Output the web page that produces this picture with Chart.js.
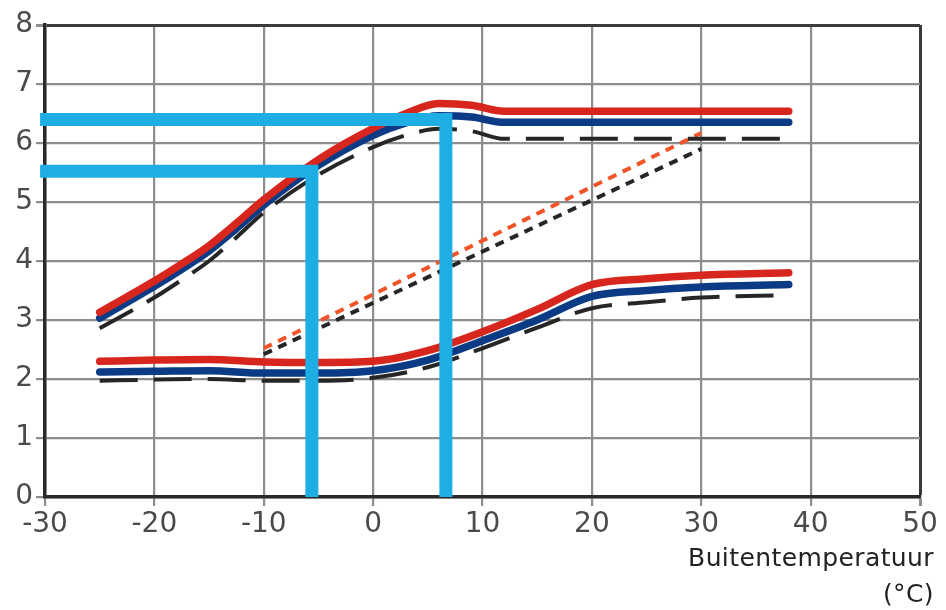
<!DOCTYPE html>
<html>
<head>
<meta charset="utf-8">
<script src="https://cdn.jsdelivr.net/npm/chart.js@4.4.1/dist/chart.umd.min.js"></script>
<style>
  html,body{margin:0;padding:0;background:#fff;}
  #wrap{width:946px;height:610px;position:relative;}
</style>
</head>
<body>
<div id="wrap"><canvas id="c" width="946" height="610"></canvas></div>
<script>
// ---- data ----
const xTickLabels = ['-30','-20','-10','0','10','20','30','40','50'];
const yTickLabels = ['0','1','2','3','4','5','6','7','8'];
const xAxisTitle = ['Buitentemperatuur', '(°C)'];

const xUpper = [-25, -20, -17.5, -15, -12.5, -10, -5, 0, 3, 6, 9, 12, 20, 30, 38];
const upperRed   = [3.13, 3.66, 3.95, 4.26, 4.64, 5.04, 5.72, 6.25, 6.50, 6.67, 6.64, 6.54, 6.54, 6.54, 6.54];
const upperBlue  = [3.03, 3.57, 3.86, 4.17, 4.55, 4.95, 5.62, 6.13, 6.34, 6.46, 6.44, 6.35, 6.35, 6.35, 6.35];
const upperBlack = [2.86, 3.38, 3.68, 4.00, 4.40, 4.82, 5.46, 5.93, 6.13, 6.24, 6.20, 6.07, 6.07, 6.07, 6.07];

const xLower = [-25, -20, -15, -10, -5, 0, 5, 10, 15, 20, 25, 30, 38];
const lowerRed   = [2.30, 2.32, 2.33, 2.29, 2.28, 2.30, 2.48, 2.80, 3.18, 3.60, 3.70, 3.76, 3.80];
const lowerBlue  = [2.12, 2.13, 2.14, 2.10, 2.10, 2.14, 2.32, 2.65, 3.00, 3.40, 3.50, 3.56, 3.60];
const lowerBlack = [1.97, 1.99, 2.00, 1.97, 1.97, 2.02, 2.20, 2.52, 2.87, 3.20, 3.30, 3.38, 3.42];

const xDotted = [-10, 30];
const dottedRed   = [2.52, 6.17];
const dottedBlack = [2.42, 5.90];

const xMark1 = [-30.45, 6.65, 6.65];
const yMark1 = [6.40, 6.40, 0];
const xMark2 = [-30.45, -5.6, -5.6];
const yMark2 = [5.52, 5.52, 0];

// ---- helpers ----
const pts = (xs, ys) => xs.map((x, i) => ({x: x, y: ys[i]}));

const RED = '#d7261d', BLUE = '#0c3b86', BLACK = '#262626';
const ORANGE = '#f05428', HIGHLIGHT = '#1eaee4';

function solid(data, color, order) {
  return {data, borderColor: color, borderWidth: 7.5, cubicInterpolationMode: 'monotone',
          borderCapStyle: 'round', borderJoinStyle: 'round', pointRadius: 0, order, fill: false};
}
function dashed(data, order) {
  return {data, borderColor: BLACK, borderWidth: 4, borderDash: [38, 16], cubicInterpolationMode: 'monotone',
          borderCapStyle: 'butt', pointRadius: 0, order, fill: false};
}
function dotted(data, color, order) {
  return {data, borderColor: color, borderWidth: 4, borderDash: [9, 7], tension: 0,
          borderCapStyle: 'butt', pointRadius: 0, order, fill: false};
}
function marker(data) {
  return {data, borderColor: HIGHLIGHT, borderWidth: 13, tension: 0, borderCapStyle: 'butt',
          borderJoinStyle: 'miter', pointRadius: 0, order: 0, fill: false, clip: false};
}

const titlePlugin = {
  id: 'xtitle',
  afterDraw(chart) {
    const ctx = chart.ctx;
    ctx.save();
    ctx.fillStyle = '#222';
    ctx.font = '25px "DejaVu Sans"';
    ctx.textAlign = 'right';
    ctx.textBaseline = 'alphabetic';
    try { ctx.letterSpacing = '0.4px'; } catch (e) {}
    ctx.fillText(xAxisTitle[0], 934, 566);
    ctx.fillText(xAxisTitle[1], 934, 602);
    ctx.restore();
  }
};

const tickFont = {family: '"DejaVu Sans"', size: 28};

new Chart(document.getElementById('c'), {
  type: 'line',
  data: {
    datasets: [
      marker(pts(xMark1, yMark1)),
      marker(pts(xMark2, yMark2)),
      solid(pts(xUpper, upperRed), RED, 1),
      solid(pts(xLower, lowerRed), RED, 1),
      solid(pts(xUpper, upperBlue), BLUE, 2),
      solid(pts(xLower, lowerBlue), BLUE, 2),
      dashed(pts(xUpper, upperBlack), 3),
      dashed(pts(xLower, lowerBlack), 3),
      dotted(pts(xDotted, dottedRed), ORANGE, 4),
      dotted(pts(xDotted, dottedBlack), BLACK, 4)
    ]
  },
  options: {
    responsive: false,
    animation: false,
    events: [],
    layout: {padding: {top: 25, right: 26, left: 0, bottom: 0}},
    plugins: {legend: {display: false}, tooltip: {enabled: false}, title: {display: false}},
    scales: {
      x: {
        type: 'linear', min: -30, max: 50,
        afterFit(s) { s.height = 113; },
        ticks: {stepSize: 10, color: '#4a4a4a', font: tickFont, padding: 2, maxRotation: 0,
                callback: (v) => xTickLabels[Math.round((v + 30) / 10)]},
        grid: {
          color: (c) => (c.tick && c.tick.value === 50) ? '#3a3a3a' : '#8d8d8d',
          lineWidth: (c) => (c.tick && c.tick.value === 50) ? 3 : 2.2,
          tickColor: '#8d8d8d', tickLength: 9, drawTicks: true
        },
        border: {display: true, color: '#2a2a2a', width: 3.5}
      },
      y: {
        min: 0, max: 8,
        afterFit(s) { s.width = 45; },
        ticks: {stepSize: 1, color: '#4a4a4a', font: tickFont, padding: 3,
                callback: (v) => yTickLabels[Math.round(v)]},
        grid: {
          color: (c) => (c.tick && c.tick.value === 8) ? '#3a3a3a' : '#8d8d8d',
          lineWidth: (c) => (c.tick && c.tick.value === 8) ? 3 : 2.2,
          tickColor: '#8d8d8d', tickLength: 9, drawTicks: true
        },
        border: {display: true, color: '#2a2a2a', width: 3.5}
      }
    }
  },
  plugins: [titlePlugin]
});
</script>
</body>
</html>
